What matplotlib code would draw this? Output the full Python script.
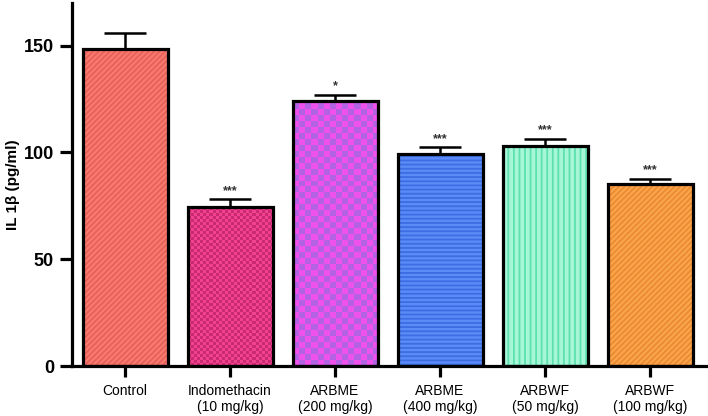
import numpy as np
import matplotlib.pyplot as plt
from matplotlib.colors import ListedColormap

plt.rcParams['font.family'] = ['Liberation Sans', 'DejaVu Sans']
plt.rcParams['hatch.linewidth'] = 1.3

groups = ["Control", "Indomethacin\n(10 mg/kg)", "ARBME\n(200 mg/kg)",
          "ARBME\n(400 mg/kg)", "ARBWF\n(50 mg/kg)", "ARBWF\n(100 mg/kg)"]
means = [148.5, 74.5, 124, 99.5, 103, 85]
sem = [7.5, 3.5, 3, 3, 3.4, 2.8]
stars = ["", "***", "*", "***", "***", "***"]

fills = ["#F77B70", "#F2418E", "#EE52EA", "#5A8CF8", "#A6F7D6", "#F9A64C"]
hatch_cols = ["#E8605A", "#C92A72", "#B462E4", "#3E6CE2", "#5EE0B0", "#EC8A32"]
hatches = ["//////", None, None, "----", "|||", "//////"]
# checker cell size (cols across bar, value units per row) for the checkered bars
checker = {1: (28, 1.4), 2: (14, 2.8)}

fig = plt.figure(figsize=(7.08, 4.16), dpi=100)
ax = fig.add_axes([0.1017, 0.12, 0.898, 0.873])

x = np.arange(len(groups))
for i in range(len(groups)):
    b = ax.bar(x[i], means[i], width=0.81, color=fills[i], edgecolor=hatch_cols[i],
               hatch=hatches[i], linewidth=0, zorder=2)[0]
    if i in checker:
        ncol, cell = checker[i]
        nrow = int(np.ceil(means[i] / cell))
        grid = (np.add.outer(np.arange(nrow), np.arange(ncol)) % 2).astype(float)
        x0, w = b.get_x(), b.get_width()
        im = ax.imshow(grid, cmap=ListedColormap([fills[i], hatch_cols[i]]),
                       extent=[x0, x0 + w, 0, nrow * cell], origin="lower",
                       aspect="auto", interpolation="nearest", zorder=2.5)
        im.set_clip_path(b)
ax.bar(x, means, width=0.81, fill=False, edgecolor="black", linewidth=2.3, zorder=3)

ax.errorbar(x, means, yerr=[np.zeros(len(x)), sem], fmt="none", ecolor="black",
            elinewidth=1.8, capsize=15, capthick=1.8, zorder=1)

for i, s in enumerate(stars):
    if s:
        ax.text(x[i], means[i] + sem[i] + 1.0, s, ha="center", va="bottom",
                fontsize=9, fontweight="bold", color="#333333")

ax.set_xlim(-0.505, 5.55)
ax.set_ylim(0, 170)
ax.set_yticks([0, 50, 100, 150])
ax.set_xticks(x)
ax.set_xticklabels(groups, fontsize=10)
for lab in ax.get_yticklabels():
    lab.set_fontweight("bold")
ax.tick_params(axis="y", labelsize=13, width=2.3, length=9, pad=4)
ax.tick_params(axis="x", width=2.3, length=8, pad=5)
ax.set_ylabel("IL 1β (pg/ml)", fontsize=11, fontweight="bold", labelpad=3)

for side in ["top", "right"]:
    ax.spines[side].set_visible(False)
for side in ["left", "bottom"]:
    ax.spines[side].set_linewidth(2.3)

fig.savefig("out.png", dpi=100)
